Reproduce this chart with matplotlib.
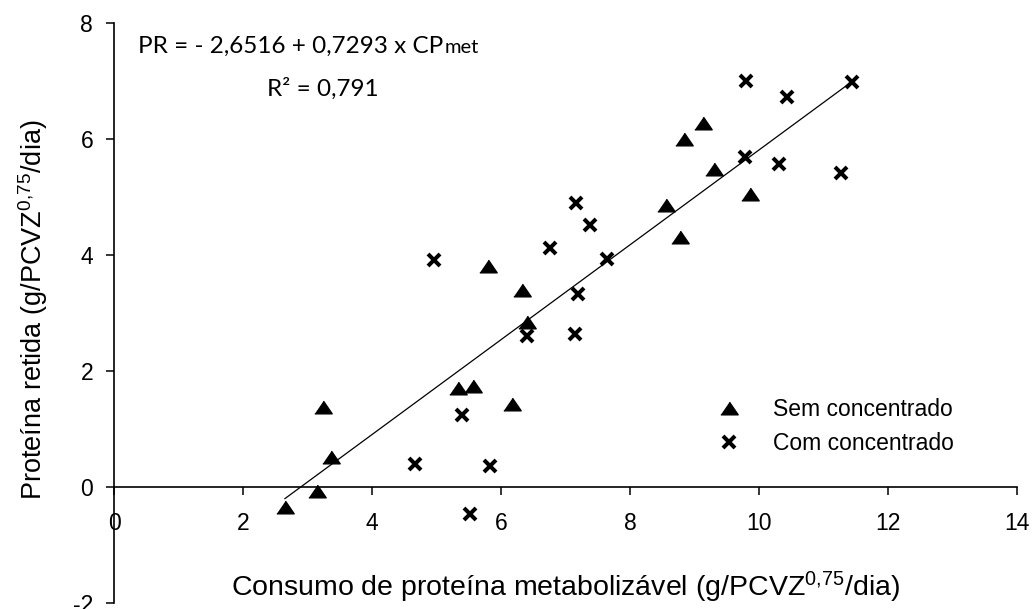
import numpy as np
import matplotlib
matplotlib.use('Agg')
import matplotlib.pyplot as plt

plt.rcParams['font.family'] = ['Liberation Sans', 'DejaVu Sans']
plt.rcParams['mathtext.fontset'] = 'custom'
plt.rcParams['mathtext.rm'] = 'Liberation Sans'
plt.rcParams['mathtext.it'] = 'Liberation Sans:italic'
plt.rcParams['axes.unicode_minus'] = False

# Sem concentrado (triangles)
sem_x = [2.65, 3.14, 3.24, 3.37, 5.34, 5.57, 5.80, 6.17, 6.32, 6.40,
         8.56, 8.78, 8.84, 9.13, 9.31, 9.86]
sem_y = [-0.35, -0.07, 1.38, 0.52, 1.70, 1.75, 3.81, 1.43, 3.39, 2.85,
         4.87, 4.31, 6.00, 6.28, 5.48, 5.06]

# Com concentrado (crosses)
com_x = [4.66, 4.96, 5.40, 5.52, 5.83, 6.41, 6.76, 7.15, 7.17, 7.19,
         7.38, 7.64, 9.78, 9.80, 10.32, 10.44, 11.27, 11.44]
com_y = [0.40, 3.91, 1.24, -0.47, 0.36, 2.60, 4.13, 2.64, 4.90, 3.33,
         4.52, 3.94, 5.70, 7.00, 5.58, 6.73, 5.41, 6.99]

# regression line end points as drawn
fit_x = [2.65, 11.44]
fit_y = [-0.20, 6.99]

equation = 'PR = - 2,6516 + 0,7293 x CP'
equation_sub = 'met'
r2_text = 'R\u00b2 = 0,791'

x_ticks = [0, 2, 4, 6, 8, 10, 12, 14]
y_ticks = [-2, 0, 2, 4, 6, 8]

fig = plt.figure(figsize=(10.33, 6.09), dpi=100)
ax = fig.add_axes([0.1104, 0.0099, 0.8739, 0.952])

tri = [(-1, -0.73), (1, -0.73), (0, 0.73)]
ax.plot(fit_x, fit_y, color='black', lw=0.9, zorder=2)
ax.plot(sem_x, sem_y, linestyle='none', marker=tri, ms=12.5, color='black',
        label='Sem concentrado', zorder=3)
ax.plot(com_x, com_y, linestyle='none', marker='x', ms=8.8, mew=2.9,
        color='black', label='Com concentrado', zorder=3)

ax.set_xlim(0, 14)
ax.set_ylim(-2, 8)
ax.set_xticks(x_ticks)
ax.set_yticks(y_ticks)
ax.spines['top'].set_visible(False)
ax.spines['right'].set_visible(False)
ax.spines['bottom'].set_position(('data', 0))
ax.spines['left'].set_linewidth(1.2)
ax.spines['bottom'].set_linewidth(1.2)
ax.tick_params(axis='both', direction='out', length=6, width=1.1, labelsize=16.5)
ax.tick_params(axis='x', pad=12)
ax.tick_params(axis='y', pad=9)

ax.text(0.5, 0.012, 'Consumo de prote\u00edna metaboliz\u00e1vel (g/PCVZ$^{\\mathregular{0{,}75}}$/dia)',
        transform=ax.transAxes, ha='center', va='baseline', fontsize=20.5)
ax.text(-0.0893, 0.505, 'Prote\u00edna retida (g/PCVZ$^{\\mathregular{0{,}75}}$/dia)',
        transform=ax.transAxes, ha='center', va='center', rotation=90, fontsize=19.5)

eq = ax.text(0.366, 7.49, equation, fontsize=17.5, family='Lato', va='baseline')
fig.canvas.draw()
bb = eq.get_window_extent()
x_end = ax.transData.inverted().transform((bb.x1, bb.y0))[0]
ax.text(x_end + 0.03, 7.49, equation_sub, fontsize=14.5, family='Lato', va='baseline')
ax.text(2.37, 6.74, r2_text, fontsize=17.5, family='Lato', va='baseline')

ax.legend(loc='center left', bbox_to_anchor=(0.639, 0.304), frameon=False,
          fontsize=16.5, handletextpad=1.2, labelspacing=0.5, handlelength=1.5)

fig.savefig('out.png', dpi=100)
